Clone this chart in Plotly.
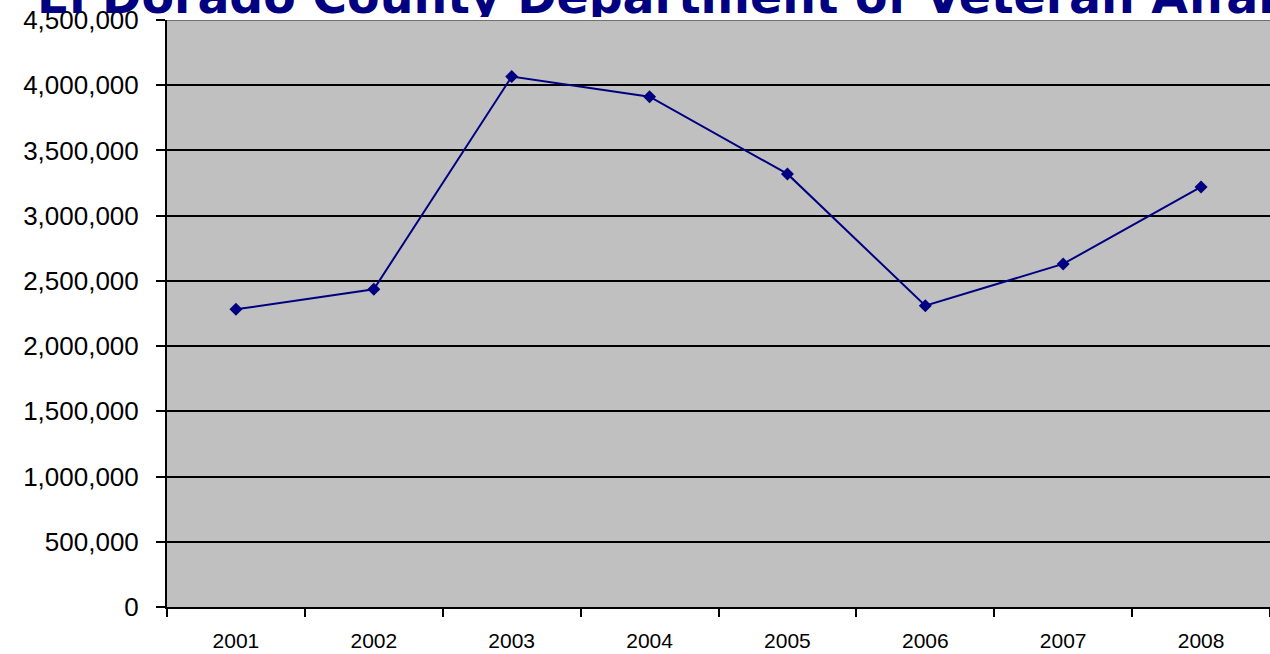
import plotly.graph_objects as go

# ---- data ----
years = ["2001", "2002", "2003", "2004", "2005", "2006", "2007", "2008"]
values = [2282000, 2436000, 4066000, 3912000, 3320000, 2310000, 2630000, 3220000]
y_tick_values = [0, 500000, 1000000, 1500000, 2000000, 2500000, 3000000, 3500000, 4000000, 4500000]
y_tick_labels = ["0", "500,000", "1,000,000", "1,500,000", "2,000,000", "2,500,000",
                 "3,000,000", "3,500,000", "4,000,000", "4,500,000"]
title_text = ["El Dorado County Department of Veteran Affairs"]

W, H = 1270, 654
NAVY = "#000080"

fig = go.Figure()

fig.add_trace(go.Scatter(
    x=years, y=values, mode="lines+markers",
    line=dict(color=NAVY, width=2),
    marker=dict(symbol="diamond", size=10, color=NAVY),
    xaxis="x", yaxis="y", cliponaxis=False, showlegend=False, hoverinfo="skip",
))

# Title drawn as text clipped to a thin strip at the top of the page
fig.add_trace(go.Scatter(
    x=[37], y=[1.5], mode="text", text=title_text, textposition="middle right",
    textfont=dict(family="DejaVu Sans", size=47.4, color=NAVY, weight="bold"),
    xaxis="x2", yaxis="y2", cliponaxis=True, showlegend=False, hoverinfo="skip",
))

fig.update_layout(
    width=W, height=H,
    margin=dict(l=0, r=0, t=0, b=0, pad=0),
    paper_bgcolor="white", plot_bgcolor="rgba(0,0,0,0)",
    hovermode=False,
    xaxis=dict(
        domain=[167 / W, 1], type="category", range=[-0.5, 7.5], automargin=False,
        tickson="boundaries", ticks="outside", ticklen=8, tickwidth=2, tickcolor="black",
        showline=True, linecolor="black", linewidth=2, showgrid=False, zeroline=False,
        tickfont=dict(family="Liberation Sans", size=21, color="black"),
        ticklabelstandoff=14, anchor="y",
    ),
    yaxis=dict(
        domain=[47 / H, 634 / H], range=[0, 4500000], autorange=False, automargin=False,
        tickvals=y_tick_values, ticktext=y_tick_labels,
        ticks="outside", ticklen=9, tickwidth=2, tickcolor="black",
        showline=True, linecolor="black", linewidth=2,
        showgrid=True, gridcolor="black", gridwidth=2, zeroline=False,
        tickfont=dict(family="Liberation Sans", size=26, color="black"),
        ticklabelstandoff=12, anchor="x",
    ),
    xaxis2=dict(domain=[0, 1], range=[0, W], visible=False, anchor="y2",
                fixedrange=True, automargin=False),
    yaxis2=dict(domain=[637 / H, 1], range=[17, 0], autorange=False, visible=False,
                anchor="x2", fixedrange=True, automargin=False),
    shapes=[
        dict(type="rect", xref="x domain", yref="y domain", x0=0, x1=1, y0=0, y1=1,
             fillcolor="#C0C0C0", line=dict(width=0), layer="below"),
        dict(type="line", xref="x domain", yref="y", x0=0, x1=1, y0=4500000, y1=4500000,
             line=dict(color="#707070", width=2), layer="above"),
    ],
)

fig.write_html(
    "out.html",
    config={"displayModeBar": False, "staticPlot": True},
    post_script="document.body.style.margin='0';document.body.style.overflow='hidden';",
)
